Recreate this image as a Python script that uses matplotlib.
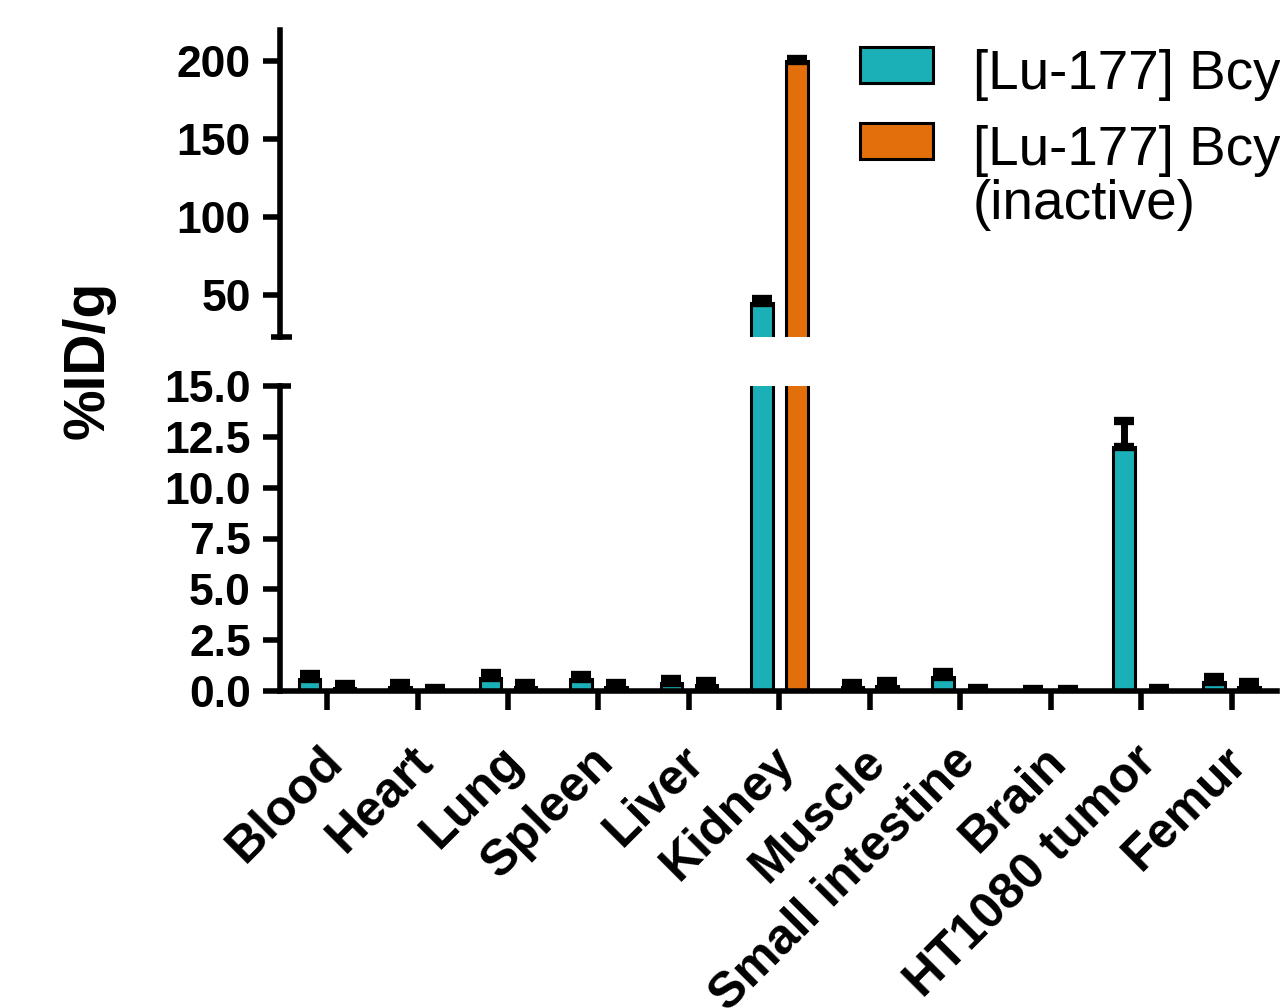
import numpy as np
import matplotlib
matplotlib.use("Agg")
import matplotlib.pyplot as plt
from matplotlib.patches import Rectangle
from matplotlib.transforms import ScaledTranslation

plt.rcParams['font.family'] = ['Liberation Sans', 'DejaVu Sans']
plt.rcParams['font.weight'] = 'bold'

categories = ["Blood", "Heart", "Lung", "Spleen", "Liver", "Kidney", "Muscle",
              "Small intestine", "Brain", "HT1080 tumor", "Femur"]
active_vals = [0.6, 0.2, 0.65, 0.6, 0.4, 45.0, 0.2, 0.7, 0.02, 12.0, 0.45]
active_err = [0.25, 0.2, 0.22, 0.2, 0.2, 2.5, 0.2, 0.22, 0.08, 1.3, 0.25]
inactive_vals = [0.15, 0.05, 0.2, 0.2, 0.3, 200.0, 0.25, 0.05, 0.02, 0.05, 0.2]
inactive_err = [0.2, 0.12, 0.2, 0.2, 0.2, 1.5, 0.25, 0.12, 0.08, 0.12, 0.25]
labels = ["[Lu-177] Bcy", "[Lu-177] Bcy", "(inactive)"]
bottom_ticks = [0.0, 2.5, 5.0, 7.5, 10.0, 12.5, 15.0]
top_ticks = [50, 100, 150, 200]

TEAL = "#1BB0B8"
ORANGE = "#E36F0C"
W, H = 1280, 1008

fig = plt.figure(figsize=(12.8, 10.08), dpi=100)
ax_b = fig.add_axes([280 / W, 1 - 691 / H, 997 / W, 305 / H])
ax_t = fig.add_axes([280 / W, 1 - 337 / H, 997 / W, 307 / H])

x = np.arange(len(categories))
bw = 0.24
off = 0.193
LW = 4.0

for ax in (ax_b, ax_t):
    ax.bar(x - off, active_vals, width=bw, color=TEAL, edgecolor='black', linewidth=2.2, zorder=2)
    ax.bar(x + off, inactive_vals, width=bw, color=ORANGE, edgecolor='black', linewidth=2.2, zorder=2)
    ax.errorbar(x - off, active_vals, yerr=[np.zeros(len(x)), active_err], fmt='none',
                ecolor='black', elinewidth=5, capsize=7, capthick=6, zorder=3)
    ax.errorbar(x + off, inactive_vals, yerr=[np.zeros(len(x)), inactive_err], fmt='none',
                ecolor='black', elinewidth=5, capsize=7, capthick=6, zorder=3)
    ax.set_xlim(-0.52, 10.5)
    for s in ('top', 'right'):
        ax.spines[s].set_visible(False)
    ax.spines['left'].set_linewidth(LW)
    ax.spines['bottom'].set_linewidth(LW)
    ax.tick_params(axis='y', direction='out', length=12, width=LW, labelsize=32, pad=9)

# bottom axes
ax_b.set_ylim(0, 15)
ax_b.set_yticks(bottom_ticks)
ax_b.set_yticklabels([f"{v:.1f}" for v in bottom_ticks])
ax_b.set_xticks(x)
ax_b.set_xticklabels(categories, rotation=45, ha='right', va='top',
                     rotation_mode='anchor', fontsize=36, fontweight='bold')
ax_b.tick_params(axis='x', direction='out', length=14, width=LW, pad=20)
shift = ScaledTranslation(-8 / 100, 0, fig.dpi_scale_trans)
for lbl in ax_b.get_xticklabels():
    lbl.set_transform(lbl.get_transform() + shift)
ax_b.plot([0, 0.011], [1, 1], transform=ax_b.transAxes, color='black', lw=LW,
          clip_on=False, solid_capstyle='butt')

# top axes
ax_t.set_ylim(23, 220)
ax_t.set_yticks(top_ticks)
ax_t.spines['bottom'].set_visible(False)
ax_t.set_xticks([])
ax_t.plot([-0.009, 0.012], [0, 0], transform=ax_t.transAxes, color='black', lw=LW,
          clip_on=False, solid_capstyle='butt')

for ax in (ax_b, ax_t):
    for lbl in ax.get_yticklabels():
        lbl.set_fontweight('bold')

fig.text(89 / W, 1 - 360 / H, "%ID/g", rotation=90, fontsize=41, fontweight='bold',
         ha='center', va='center')

# legend (manual, clipped by figure edge like the reference)
fig.add_artist(Rectangle((860 / W, 1 - 83 / H), 73 / W, 36 / H, transform=fig.transFigure,
                         facecolor=TEAL, edgecolor='black', linewidth=2.2))
fig.add_artist(Rectangle((860 / W, 1 - 159 / H), 73 / W, 36 / H, transform=fig.transFigure,
                         facecolor=ORANGE, edgecolor='black', linewidth=2.2))
fig.text(973 / W, 1 - 89 / H, labels[0], fontsize=39.5, fontweight='normal', va='baseline')
fig.text(973 / W, 1 - 165 / H, labels[1], fontsize=39.5, fontweight='normal', va='baseline')
fig.text(973 / W, 1 - 219 / H, labels[2], fontsize=39.5, fontweight='normal', va='baseline')

fig.savefig("out.png", dpi=100)
